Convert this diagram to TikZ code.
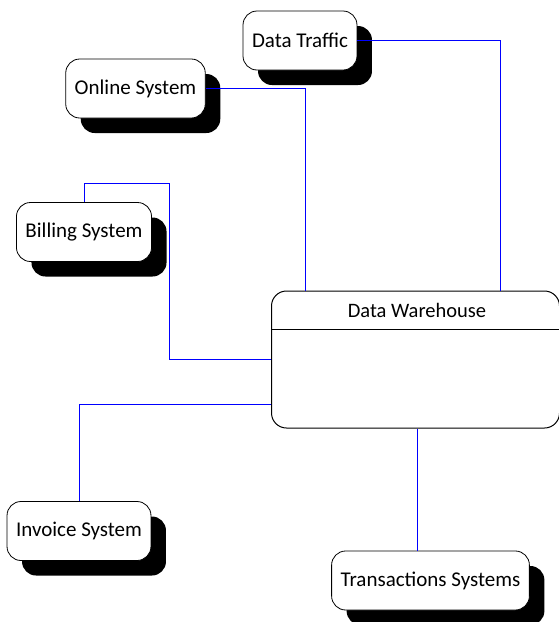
\documentclass[tikz,border=0pt]{standalone}
\usepackage{fontspec}
\setmainfont{Carlito}
\usepackage{tikz}
\usetikzlibrary{shadows, calc}

\begin{document}
\begin{tikzpicture}[x=1pt, y=-1pt, line width=0.8pt]
  \tikzstyle{system}=[rectangle, rounded corners=14pt, draw, fill=white,
    inner xsep=9pt, minimum height=59pt,
    font=\fontsize{21}{25}\selectfont,
    drop shadow={shadow xshift=15pt, shadow yshift=-15pt, fill=black, opacity=1}]
  \tikzstyle{store}=[rectangle, rounded corners=15pt, draw, line width=1pt,
    minimum width=288pt, minimum height=137pt]
  \tikzstyle{link}=[blue, line width=0.9pt]
  \useasboundingbox (0,0) rectangle (559,622);

  \node[system] (traffic) at (300,40.5)  {Data Traffic};
  \node[system] (online)  at (135.5,88.5) {Online System};
  \node[system] (billing) at (84,232)    {Billing System};
  \node[system] (invoice) at (79,531)    {Invoice System};
  \node[system] (trans)   at (430.5,580.5) {Transactions Systems};

  \node[store] (dw) at (415.5,359.5) {};
  \node[font=\fontsize{20.5}{24}\selectfont] (dw_title) at (417,310.5) {Data Warehouse};
  \draw[line width=1pt] ([yshift=-39pt]dw.north west) -- ([yshift=-39pt]dw.north east);

  \draw[link] (traffic.east) -| ([xshift=-60pt]dw.north east);
  \draw[link] (online.east) -| ([xshift=34pt]dw.north west);
  \draw[link] (billing.north) -- ++(0,-19) -| ([xshift=-102pt]dw.west) -- (dw.west);
  \draw[link] (invoice.north) |- ([yshift=-44.5pt]dw.west);
  \draw[link] ([xshift=1.5pt]dw.south) -- ([xshift=1.5pt]dw.south |- trans.north);
\end{tikzpicture}
\end{document}
